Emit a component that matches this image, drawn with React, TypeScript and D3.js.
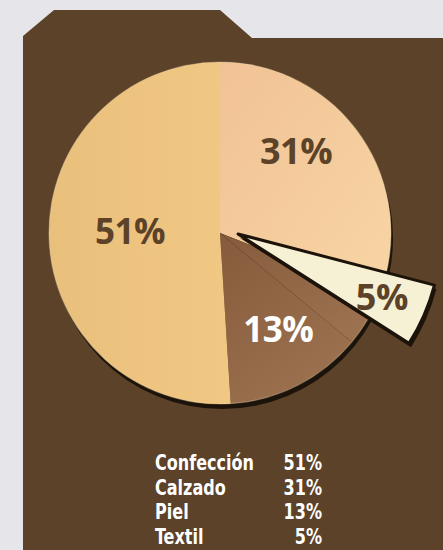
import React from "react";
import * as d3 from "d3";

// ---- data ----
const categories = ["Confección", "Calzado", "Piel", "Textil"];
const values = [51, 31, 13, 5];
const valueLabels = ["51%", "31%", "13%", "5%"];
// clockwise drawing order starting at 12 o'clock
const drawOrder = ["Calzado", "Textil", "Piel", "Confección"];

const sliceColors: Record<string, string> = {
  "Confección": "url(#gConf)",
  Calzado: "url(#gCalz)",
  Piel: "url(#gPiel)",
  Textil: "#f6f1d4",
};
const labelColors: Record<string, string> = {
  "Confección": "#5b4229",
  Calzado: "#5b4229",
  Piel: "#ffffff",
  Textil: "#5b4229",
};
// label placement: radius, angular shift (deg) relative to slice centre, font size
const labelPlace: Record<string, [number, number, number]> = {
  "Confección": [90, 3, 35],
  Calzado: [112, -13, 36],
  Piel: [113, -4, 35],
  Textil: [157, 0, 36],
};

export default function App() {
  const W = 443;
  const H = 550;
  const cx = 220;
  const cy = 233;
  const r = 171;
  const explodeR = 203;
  const explodeOffset = 18;
  const explodeDir = (93 * Math.PI) / 180;
  const tilt = (-7 * Math.PI) / 180;

  const data = drawOrder.map((c) => ({ cat: c, value: values[categories.indexOf(c)] }));
  const pie = d3
    .pie<{ cat: string; value: number }>()
    .value((d) => d.value)
    .sort(null)
    .startAngle(0)
    .endAngle(2 * Math.PI);
  const arcs = pie(data);
  const arc = d3.arc<any>().innerRadius(0).outerRadius(r);
  const bigArc = d3.arc<any>().innerRadius(0).outerRadius(explodeR);

  const polar = (a: number, rr: number): [number, number] => [rr * Math.sin(a), -rr * Math.cos(a)];

  const textil = arcs.find((a) => a.data.cat === "Textil")!;
  const [ox, oy] = polar(explodeDir, explodeOffset);
  const textilTilted = { ...textil, startAngle: textil.startAngle + tilt, endAngle: textil.endAngle + tilt };

  const legendX = 155;
  const legendRight = 322;
  const legendY0 = 470.5;
  const legendStep = 24.5;
  const legendScale = 0.85;

  return (
    <svg
      width={W}
      height={H}
      style={{ position: "absolute", left: 0, top: 0, display: "block" }}
    >
      <defs>
        <linearGradient id="gConf" x1="0" y1="0" x2="1" y2="0">
          <stop offset="0" stopColor="#e9bf7c" />
          <stop offset="1" stopColor="#f1c883" />
        </linearGradient>
        <linearGradient id="gCalz" x1="0" y1="0" x2="1" y2="1">
          <stop offset="0" stopColor="#f1c295" />
          <stop offset="1" stopColor="#f8d5a4" />
        </linearGradient>
        <linearGradient id="gPiel" x1="0" y1="0" x2="0.6" y2="1">
          <stop offset="0" stopColor="#855b3b" />
          <stop offset="1" stopColor="#9c7150" />
        </linearGradient>
      </defs>
      <rect x={0} y={0} width={W} height={H} fill="#e5e5ea" />
      <polygon
        points="23,36 54,10 220,10 252,38 443,38 443,550 23,550"
        fill="#5b4229"
      />
      <g transform={`translate(${cx},${cy})`}>
        {/* 3D rim / shadow */}
        <circle cx={2} cy={5} r={r} fill="#1c130b" />
        {arcs.map((a) => (
          <path
            key={a.data.cat}
            d={arc(a) as string}
            fill={a.data.cat === "Textil" ? sliceColors.Piel : sliceColors[a.data.cat]}
          />
        ))}
        <circle r={r} fill="none" stroke="#f3dcae" strokeOpacity={0.35} strokeWidth={1.2} />
        {/* exploded slice */}
        <g transform={`translate(${ox},${oy})`}>
          <path d={bigArc(textilTilted) as string} fill="#1c130b" transform="translate(2,4)" />
          <path
            d={bigArc(textilTilted) as string}
            fill={sliceColors.Textil}
            stroke="#1c130b"
            strokeWidth={3}
            strokeLinejoin="round"
          />
        </g>
        {arcs.map((a) => {
          const [rr, shift, fs] = labelPlace[a.data.cat];
          const isT = a.data.cat === "Textil";
          const mid = (a.startAngle + a.endAngle) / 2 + (shift * Math.PI) / 180 + (isT ? tilt : 0);
          let [x, y] = polar(mid, rr);
          if (isT) {
            x += ox;
            y += oy;
          }
          return (
            <text
              key={"l" + a.data.cat}
              x={x}
              y={y}
              dy="0.36em"
              textAnchor="middle"
              fill={labelColors[a.data.cat]}
              fontFamily="'Open Sans', 'DejaVu Sans', sans-serif"
              fontWeight={700}
              fontSize={fs}
              letterSpacing={-0.5}
            >
              {valueLabels[categories.indexOf(a.data.cat)]}
            </text>
          );
        })}
      </g>
      <g
        transform={`translate(${legendX},0) scale(${legendScale},1)`}
        fontFamily="'DejaVu Sans', sans-serif"
        fontWeight={700}
        fontSize={21}
        fill="#ffffff"
        style={{ fontStretch: "condensed" }}
      >
        {categories.map((c, i) => (
          <g key={c}>
            <text x={0} y={legendY0 + i * legendStep}>
              {c}
            </text>
            <text x={(legendRight - legendX) / legendScale} y={legendY0 + i * legendStep} textAnchor="end">
              {valueLabels[i]}
            </text>
          </g>
        ))}
      </g>
    </svg>
  );
}
